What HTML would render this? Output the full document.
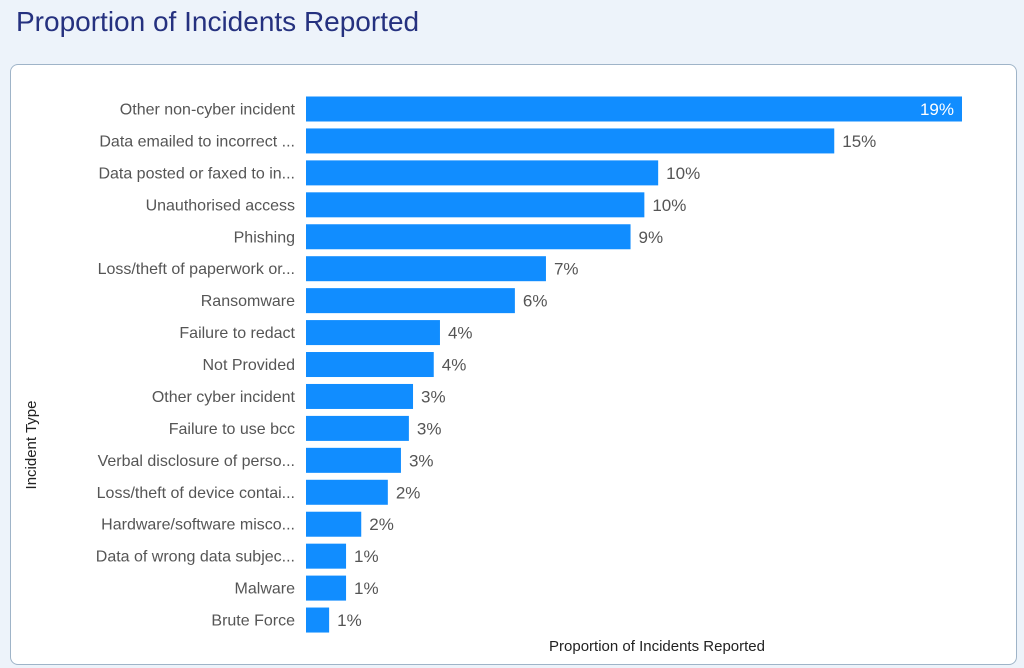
<!DOCTYPE html>
<html><head><meta charset="utf-8"><style>
html,body{margin:0;padding:0;width:1024px;height:668px;background:#edf3fa;overflow:hidden;font-family:"Liberation Sans",sans-serif}
#title{position:absolute;left:16px;top:6px;font-size:28px;color:#25317f}
#panel{position:absolute;left:10px;top:64px;width:1005px;height:599px;background:#fff;border:1px solid #9fb4c8;border-radius:8px}
svg{position:absolute;left:0;top:0}
</style></head><body>
<div id="title">Proportion of Incidents Reported</div>
<div id="panel"></div>
<svg id="chart" width="1024" height="668"></svg>
<script>
const categories=["Other non-cyber incident","Data emailed to incorrect ...","Data posted or faxed to in...","Unauthorised access","Phishing","Loss/theft of paperwork or...","Ransomware","Failure to redact","Not Provided","Other cyber incident","Failure to use bcc","Verbal disclosure of perso...","Loss/theft of device contai...","Hardware/software misco...","Data of wrong data subjec...","Malware","Brute Force"];
const values=[19,15.3,10.2,9.8,9.4,6.95,6.05,3.88,3.7,3.1,2.98,2.75,2.37,1.6,1.16,1.16,0.67];
const NS="http://www.w3.org/2000/svg";
const svg=document.getElementById('chart');
const x0=306,xMax=19,wMax=656,y0=109,step=31.94,bh=25;
const xs=v=>v/xMax*wMax;
const ys=i=>y0+i*step;
function mk(t,a){const e=document.createElementNS(NS,t);for(const k in a)e.setAttribute(k,a[k]);svg.appendChild(e);return e;}
categories.forEach((c,i)=>{
  const r=mk('rect',{x:x0,y:ys(i)-bh/2,width:xs(values[i]),height:bh,fill:'#118dff'});
  
  
  const l=mk('text',{x:295,y:ys(i)+5.5,'text-anchor':'end','font-size':'16',fill:'#555'});
  l.textContent=c;
  
  
  const w=xs(values[i]);const inside=w>600;
  const v=mk('text',{x:inside?x0+w-8:x0+w+8,y:ys(i)+6,'text-anchor':inside?'end':'start','font-size':'17',fill:inside?'#fff':'#555'});
  v.textContent=Math.round(values[i])+'%';
  
  
});
const yt=mk('text',{x:0,y:0,transform:'translate(36,445) rotate(-90)','text-anchor':'middle','font-size':'15',fill:'#222'});
yt.textContent='Incident Type';


const xt=mk('text',{x:657,y:651,'text-anchor':'middle','font-size':'15',fill:'#222'});
xt.textContent='Proportion of Incidents Reported';


</script>
</body></html>
